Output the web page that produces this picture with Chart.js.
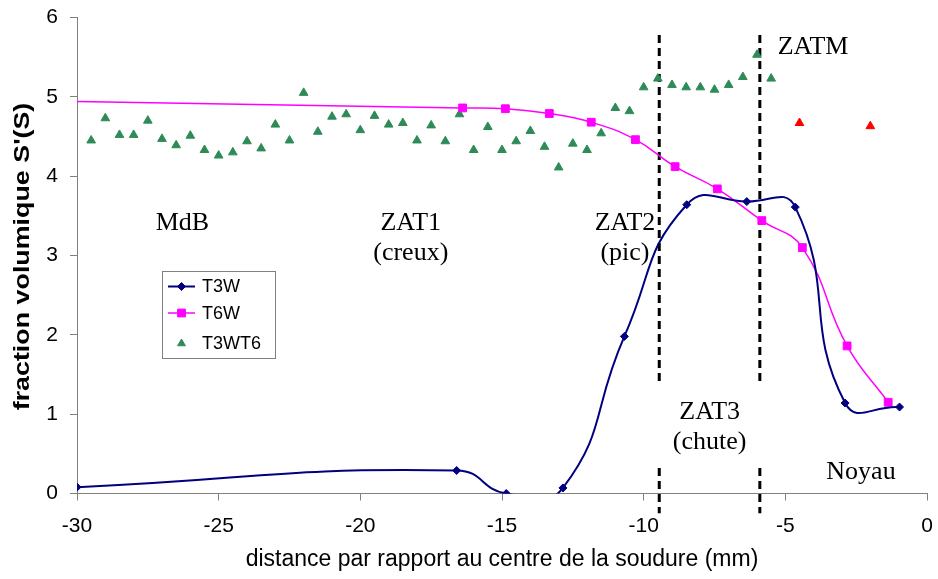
<!DOCTYPE html>
<html>
<head>
<meta charset="utf-8">
<script src="https://cdn.jsdelivr.net/npm/chart.js@4.4.0/dist/chart.umd.min.js"></script>
<style>
  html, body { margin: 0; padding: 0; background: #fff; }
  canvas { display: block; }
</style>
</head>
<body>
<canvas id="chart" width="938" height="579"></canvas>
<script>
// Distance from the weld centre (mm) and volume fraction S'(S).
const t3wX = [-30, -16.6, -14.85, -12.85, -10.68, -8.48, -6.36, -4.65, -2.89, -0.97];
const t3wY = [0.08, 0.29, 0.0, 0.07, 1.98, 3.64, 3.68, 3.61, 1.14, 1.09];

const t6wX = [-30, -16.39, -14.88, -13.33, -11.85, -10.29, -8.89, -7.40, -5.83, -4.40, -2.82, -1.37];
const t6wY = [4.94, 4.86, 4.85, 4.79, 4.68, 4.46, 4.12, 3.84, 3.44, 3.10, 1.86, 1.15];

const t3wt6X = [
  -29.5, -29, -28.5, -28, -27.5, -27, -26.5, -26, -25.5, -25,
  -24.5, -24, -23.5, -23, -22.5, -22, -21.5, -21, -20.5, -20,
  -19.5, -19, -18.5, -18, -17.5, -17, -16.5, -16, -15.5, -15,
  -14.5, -14, -13.5, -13, -12.5, -12, -11.5, -11, -10.5, -10,
  -9.5, -9, -8.5, -8, -7.5, -7, -6.5, -6, -5.5,
];
const t3wt6Y = [
  4.45, 4.73, 4.52, 4.52, 4.70, 4.47, 4.39, 4.51, 4.33, 4.26,
  4.30, 4.44, 4.35, 4.65, 4.45, 5.05, 4.56, 4.75, 4.78, 4.58,
  4.76, 4.65, 4.67, 4.45, 4.64, 4.44, 4.78, 4.33, 4.62, 4.33,
  4.44, 4.57, 4.37, 4.11, 4.41, 4.33, 4.54, 4.86, 4.82, 5.12,
  5.23, 5.15, 5.12, 5.12, 5.09, 5.15, 5.25, 5.53, 5.23,
];

// two points measured in the fusion zone
const t3wt6CoreX = [-4.5, -2.0];
const t3wt6CoreY = [4.67, 4.63];

// zone boundaries
const boundaryX = [-9.45, -5.9];
const boundaryUpper = [5.78, 1.37];
const boundaryLower = [0.32, -0.25];

const xTicks = [-30, -25, -20, -15, -10, -5, 0];
const yTicks = [0, 1, 2, 3, 4, 5, 6];

const zoneLabels = [
  {lines: ['MdB'], x: -26.28, y: 3.41},
  {lines: ['ZAT1', '(creux)'], x: -18.22, y: 3.41},
  {lines: ['ZAT2', '(pic)'], x: -10.66, y: 3.41},
  {lines: ['ZAT3', '(chute)'], x: -7.67, y: 1.03},
  {lines: ['ZATM'], x: -4.02, y: 5.63},
  {lines: ['Noyau'], x: -2.33, y: 0.27},
];

const NAVY = '#000080';
const MAGENTA = '#ff00ff';
const GREEN = '#2e8b57';
const RED = '#ff0000';
const AXIS = '#808080';
const SANS = '"Liberation Sans", Arial, sans-serif';
const SERIF = '"Liberation Serif", "Times New Roman", serif';

const zip = (xs, ys) => xs.map((x, i) => ({x, y: ys[i]}));

function boundaryData(bounds) {
  return boundaryX.map(x => [{x, y: bounds[0]}, {x, y: bounds[1]}]);
}

const dashStyle = {
  type: 'scatter',
  showLine: true,
  borderColor: '#000',
  borderWidth: 3,
  borderDash: [8, 5],
  pointRadius: 0,
  pointHoverRadius: 0,
  clip: false,
};

const datasets = [
  {
    label: 'T3W',
    data: zip(t3wX, t3wY),
    showLine: true,
    borderColor: NAVY,
    backgroundColor: NAVY,
    borderWidth: 2,
    tension: 0.5,
    pointStyle: 'rectRot',
    pointRadius: 4,
    pointBorderWidth: 1,
  },
  {
    label: 'T6W',
    data: zip(t6wX, t6wY),
    showLine: true,
    borderColor: MAGENTA,
    backgroundColor: MAGENTA,
    borderWidth: 1.5,
    tension: 0.45,
    pointStyle: 'rect',
    pointRadius: t6wX.map((x, i) => i === 0 ? 0 : 5.5),
    pointBorderWidth: 1,
  },
  {
    label: 'T3WT6',
    data: zip(t3wt6X, t3wt6Y),
    showLine: false,
    borderColor: GREEN,
    backgroundColor: GREEN,
    pointStyle: 'triangle',
    pointRadius: 5,
    pointBorderWidth: 1,
  },
  {
    label: 'T3WT6 noyau',
    data: zip(t3wt6CoreX, t3wt6CoreY),
    showLine: false,
    borderColor: RED,
    backgroundColor: RED,
    pointStyle: 'triangle',
    pointRadius: 5,
    pointBorderWidth: 1,
  },
  ...boundaryData(boundaryUpper).map(data => ({...dashStyle, label: 'limite', data})),
  ...boundaryData(boundaryLower).map(data => ({...dashStyle, label: 'limite', data})),
];

// zone names, custom legend box and the rotated y title
const overlay = {
  id: 'overlay',
  afterDatasetsDraw(chart) {
    const ctx = chart.ctx;
    const xs = chart.scales.x;
    const ys = chart.scales.y;
    ctx.save();
    ctx.fillStyle = '#000';
    ctx.font = '26px ' + SERIF;
    ctx.textAlign = 'center';
    ctx.textBaseline = 'middle';
    zoneLabels.forEach(label => {
      const px = xs.getPixelForValue(label.x);
      const py = ys.getPixelForValue(label.y);
      label.lines.forEach((line, i) => ctx.fillText(line, px, py + i * 30));
    });
    ctx.restore();
  },
  afterDraw(chart) {
    const ctx = chart.ctx;
    const area = chart.chartArea;

    // legend
    const boxLeft = area.left + 85;
    const boxTop = area.top + 253.5;
    ctx.save();
    ctx.fillStyle = '#fff';
    ctx.fillRect(boxLeft, boxTop, 114, 88);
    ctx.strokeStyle = AXIS;
    ctx.lineWidth = 1;
    ctx.strokeRect(boxLeft + 0.5, boxTop + 0.5, 113, 87);
    const rows = [15.5, 42, 72.5];
    chart.data.datasets.slice(0, 3).forEach((ds, i) => {
      const cy = boxTop + rows[i];
      if (ds.showLine) {
        ctx.strokeStyle = ds.borderColor;
        ctx.lineWidth = ds.borderWidth;
        ctx.beginPath();
        ctx.moveTo(boxLeft + 6, cy);
        ctx.lineTo(boxLeft + 33, cy);
        ctx.stroke();
      }
      ctx.fillStyle = ds.backgroundColor;
      ctx.strokeStyle = ds.borderColor;
      ctx.lineWidth = 1;
      Chart.helpers.drawPoint(ctx, {
        pointStyle: ds.pointStyle,
        radius: ds.pointStyle === 'rect' ? 5.5 : (ds.pointStyle === 'triangle' ? 4.5 : 4),
        rotation: 0,
        borderWidth: 1,
      }, boxLeft + 19.5, cy);
      ctx.fillStyle = '#000';
      ctx.font = '18px ' + SANS;
      ctx.textAlign = 'left';
      ctx.textBaseline = 'middle';
      ctx.fillText(ds.label, boxLeft + 40, cy + 1);
    });
    ctx.restore();

    // y axis title
    ctx.save();
    ctx.translate(23, (area.top + area.bottom) / 2 + 1);
    ctx.rotate(-Math.PI / 2);
    ctx.scale(1.22, 1);
    ctx.fillStyle = '#000';
    ctx.font = 'bold 22px ' + SANS;
    ctx.textAlign = 'center';
    ctx.textBaseline = 'middle';
    ctx.fillText("fraction volumique S'(S)", 0, 0);
    ctx.restore();
  },
};

Chart.defaults.font.family = SANS;
Chart.defaults.color = '#000';

new Chart(document.getElementById('chart'), {
  type: 'scatter',
  data: {datasets},
  plugins: [overlay],
  options: {
    responsive: false,
    animation: false,
    devicePixelRatio: 1,
    layout: {padding: {top: 17.5, right: 11, left: 0, bottom: 0}},
    plugins: {
      legend: {display: false},
      tooltip: {enabled: false},
    },
    elements: {
      line: {capBezierPoints: false},
    },
    scales: {
      x: {
        type: 'linear',
        min: -30,
        max: 0,
        afterBuildTicks: scale => { scale.ticks = xTicks.map(value => ({value})); },
        afterFit: scale => {
          scale.height = 85.5;
          scale.paddingLeft = 0;
          scale.paddingRight = 0;
        },
        grid: {drawOnChartArea: false, color: AXIS, tickLength: 7},
        border: {color: AXIS, width: 1},
        ticks: {font: {size: 21}, padding: 13, color: '#000'},
        title: {
          display: true,
          text: 'distance par rapport au centre de la soudure (mm)',
          font: {size: 23},
          color: '#000',
          padding: {top: 0, bottom: 6},
        },
      },
      y: {
        type: 'linear',
        min: 0,
        max: 6,
        afterBuildTicks: scale => { scale.ticks = yTicks.map(value => ({value})); },
        afterFit: scale => {
          scale.width = 77;
          scale.paddingTop = 0;
          scale.paddingBottom = 0;
        },
        grid: {drawOnChartArea: false, color: AXIS, tickLength: 7},
        border: {color: AXIS, width: 1},
        ticks: {font: {size: 21}, padding: 12, color: '#000'},
      },
    },
  },
});
</script>
</body>
</html>
